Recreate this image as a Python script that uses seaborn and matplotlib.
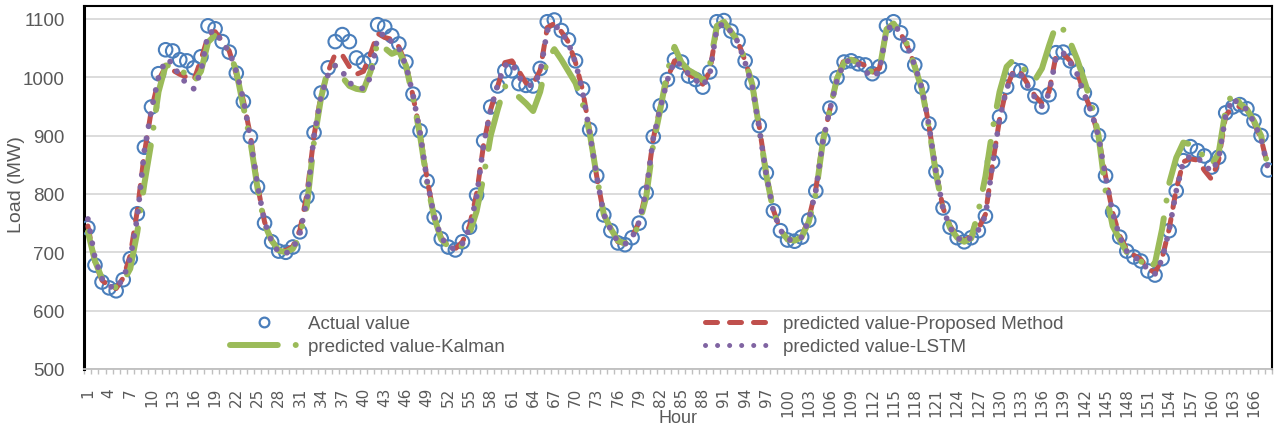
import numpy as np
import pandas as pd
import matplotlib
matplotlib.use("Agg")
import matplotlib.pyplot as plt
from matplotlib.lines import Line2D
import seaborn as sns

# --- datos (168 horas) ---
hours = list(range(1, 169))

actual = [742, 678, 649, 639, 634, 653, 689, 766, 880, 949,
          1006, 1047, 1045, 1030, 1028, 1016, 1035, 1088, 1083, 1061,
          1043, 1007, 958, 898, 812, 750, 718, 702, 700, 709,
          735, 795, 905, 973, 1016, 1061, 1073, 1061, 1033, 1025,
          1031, 1090, 1086, 1071, 1057, 1026, 971, 908, 822, 760,
          723, 709, 704, 718, 743, 798, 891, 949, 985, 1011,
          1011, 989, 986, 985, 1015, 1095, 1098, 1080, 1064, 1028,
          980, 910, 831, 764, 737, 716, 713, 725, 750, 802,
          898, 951, 996, 1030, 1026, 1002, 996, 983, 1009, 1095,
          1097, 1079, 1062, 1028, 990, 917, 836, 771, 737, 721,
          719, 726, 755, 805, 894, 947, 999, 1026, 1028, 1023,
          1021, 1006, 1018, 1088, 1095, 1076, 1054, 1021, 983, 920,
          838, 776, 743, 725, 718, 725, 737, 762, 855, 932,
          983, 1013, 1011, 990, 968, 949, 970, 1042, 1043, 1028,
          1009, 973, 944, 900, 831, 769, 726, 702, 692, 685,
          668, 661, 689, 737, 805, 857, 881, 874, 865, 846,
          863, 939, 949, 953, 946, 925, 900, 841]

proposed = [745, 682, 652, 642, 638, 656, 695, 772, 870, 945,
            995, 1018, 1012, 1005, 1000, 995, 1030, 1070, 1078, 1062,
            1045, 1005, 960, 900, 815, 752, 720, 705, 703, 710,
            738, 800, 900, 970, 1010, 1040, 1038, 1018, 1005, 1010,
            1040, 1075, 1068, 1065, 1052, 1022, 968, 905, 825, 762,
            725, 710, 706, 718, 745, 800, 885, 945, 985, 1025,
            1028, 1010, 990, 988, 1012, 1085, 1092, 1078, 1060, 1025,
            978, 908, 830, 765, 738, 718, 715, 726, 752, 805,
            895, 950, 998, 1028, 1024, 1005, 998, 988, 1010, 1085,
            1092, 1078, 1060, 1028, 988, 915, 835, 772, 738, 722,
            720, 727, 757, 808, 892, 945, 998, 1030, 1032, 1025,
            1020, 1008, 1015, 1082, 1092, 1075, 1052, 1020, 982, 918,
            838, 776, 745, 727, 720, 727, 740, 765, 850, 928,
            982, 1012, 1008, 988, 968, 955, 975, 1038, 1040, 1028,
            1008, 972, 942, 898, 830, 768, 728, 705, 695, 688,
            672, 665, 690, 740, 808, 855, 860, 858, 840, 825,
            858, 935, 948, 950, 945, 922, 895, 845]

kalman = [735, 685, 655, 642, 640, 650, 672, 735, 818, 890,
          975, 1020, 1020, 1012, 1005, 992, 1010, 1060, 1072, 1060,
          1045, 1010, 950, 890, 810, 748, 720, 703, 700, 706,
          728, 780, 890, 965, 1015, 1020, 1000, 985, 980, 978,
          1010, 1060, 1050, 1040, 1045, 1020, 965, 900, 820, 760,
          722, 710, 705, 712, 732, 770, 830, 900, 945, 985,
          970, 966, 955, 942, 975, 1030, 1048, 1030, 1010, 990,
          955, 905, 830, 765, 740, 720, 715, 724, 748, 795,
          885, 945, 1010, 1052, 1025, 1012, 1005, 995, 1020, 1088,
          1095, 1078, 1062, 1030, 988, 912, 832, 770, 738, 722,
          720, 726, 752, 800, 890, 945, 998, 1025, 1030, 1025,
          1018, 1008, 1012, 1082, 1092, 1075, 1055, 1018, 980, 915,
          835, 775, 742, 725, 718, 724, 770, 830, 910, 975,
          1018, 1030, 1022, 1005, 995, 1015, 1054, 1090, 1082, 1060,
          1030, 994, 955, 900, 805, 745, 722, 700, 690, 685,
          670, 682, 740, 818, 862, 888, 885, 878, 862, 850,
          870, 945, 975, 955, 945, 925, 900, 845]

lstm = [757, 690, 655, 642, 638, 655, 690, 760, 875, 945,
        1000, 1030, 1025, 1000, 990, 980, 1010, 1075, 1080, 1058,
        1045, 1010, 962, 895, 815, 752, 718, 700, 698, 706,
        732, 790, 900, 968, 1005, 1020, 1010, 990, 985, 980,
        1000, 1070, 1075, 1060, 1050, 1020, 970, 905, 822, 762,
        725, 710, 705, 715, 742, 795, 885, 945, 988, 1020,
        1025, 1000, 988, 985, 1008, 1080, 1090, 1078, 1058, 1025,
        975, 905, 830, 765, 738, 718, 714, 725, 752, 805,
        895, 948, 995, 1028, 1020, 1005, 995, 985, 1005, 1085,
        1092, 1078, 1060, 1025, 985, 912, 832, 770, 738, 722,
        720, 726, 755, 805, 890, 945, 995, 1025, 1030, 1022,
        1010, 1000, 1010, 1080, 1092, 1075, 1052, 1020, 982, 918,
        838, 775, 742, 725, 718, 725, 738, 762, 850, 928,
        980, 1010, 1005, 985, 965, 950, 972, 1035, 1042, 1025,
        1005, 970, 940, 898, 830, 768, 726, 702, 692, 685,
        670, 663, 688, 738, 805, 855, 865, 862, 850, 838,
        860, 935, 964, 952, 945, 922, 895, 842]

y_ticks = [500, 600, 700, 800, 900, 1000, 1100]
x_labels = list(range(1, 167, 3))

BLUE = "#4a7ebb"
RED = "#c0504d"
GREEN = "#9bbb59"
PURPLE = "#8064a2"
GRAY_TXT = "#595959"

sns.set_theme(style="white")
plt.rcParams['font.family'] = ['Liberation Sans', 'DejaVu Sans']

df = pd.DataFrame({"hour": hours, "actual": actual, "proposed": proposed,
                   "kalman": kalman, "lstm": lstm})

fig = plt.figure(figsize=(12.76, 4.27), dpi=100)
ax = fig.add_axes([84 / 1276, 57 / 427, 1188 / 1276, 363 / 427])

# series
sns.scatterplot(data=df, x="hour", y="actual", ax=ax, marker="o", s=95,
                facecolor="none", edgecolor=BLUE, linewidth=1.5, zorder=3)
sns.lineplot(data=df, x="hour", y="proposed", ax=ax, color=RED, lw=3.6,
             linestyle=(0, (2.4, 2.4)), dash_capstyle="round", zorder=4)
sns.lineplot(data=df, x="hour", y="kalman", ax=ax, color=GREEN, lw=4.3,
             linestyle=(0, (8, 3, 0.01, 3)), dash_capstyle="round", zorder=5)
sns.lineplot(data=df, x="hour", y="lstm", ax=ax, color=PURPLE, lw=4.2,
             linestyle=(0, (0.01, 2.1)), dash_capstyle="round", zorder=6)

ax.set_xlim(0.45, 168.55)
ax.set_ylim(500, 1122)
ax.set_yticks(y_ticks)
ax.set_xticks(x_labels)
ax.set_xticklabels([str(v) for v in x_labels], rotation=90,
                   family="DejaVu Sans", fontsize=11, color=GRAY_TXT)
ax.set_xticks(np.arange(0.5, 169, 1), minor=True)
ax.tick_params(axis="x", which="major", length=0, pad=13)
ax.tick_params(axis="x", which="minor", length=3.5, width=1, color="#bfbfbf",
               direction="out", bottom=True)
ax.tick_params(axis="y", length=0, pad=14, labelsize=13.5, labelcolor=GRAY_TXT)

ax.grid(axis="y", color="#d9d9d9", lw=1.3)
ax.grid(axis="x", visible=False)
ax.set_axisbelow(True)

for side in ["top", "right"]:
    ax.spines[side].set_color("black")
    ax.spines[side].set_linewidth(1.5)
ax.spines["left"].set_color("black")
ax.spines["left"].set_linewidth(2.2)
ax.spines["bottom"].set_color("#bfbfbf")
ax.spines["bottom"].set_linewidth(1.3)

ax.set_xlabel("Hour", fontsize=13, color=GRAY_TXT)
ax.xaxis.set_label_coords(0.5, -0.11)
ax.set_ylabel("Load (MW)", fontsize=14, color=GRAY_TXT)
ax.yaxis.set_label_coords(-0.0497, 0.51)

# leyenda en dos bloques
h_actual = Line2D([], [], marker="o", ls="none", mfc="none", mec=BLUE, ms=7, mew=1.6)
h_kalman = Line2D([], [], color=GREEN, lw=4.3, ls=(0, (8, 3, 0.01, 3)),
                  dash_capstyle="round")
h_prop = Line2D([], [], color=RED, lw=3.6, ls=(0, (2.4, 2.4)), dash_capstyle="round")
h_lstm = Line2D([], [], color=PURPLE, lw=3.6, ls=(0, (0.01, 2.4)),
                dash_capstyle="round")

leg_kw = dict(loc="upper left", frameon=False, borderpad=0, borderaxespad=0,
              handlelength=3.6, handletextpad=0.55, labelspacing=0.3,
              prop={"size": 13.5}, labelcolor=GRAY_TXT)
leg1 = ax.legend([h_actual, h_kalman], ["Actual value", "predicted value-Kalman"],
                 bbox_to_anchor=(0.1229, 0.148), **leg_kw)
ax.add_artist(leg1)
ax.legend([h_prop, h_lstm], ["predicted value-Proposed Method", "predicted value-LSTM"],
          bbox_to_anchor=(0.5227, 0.148), **leg_kw)

fig.savefig("out.png", dpi=100)
